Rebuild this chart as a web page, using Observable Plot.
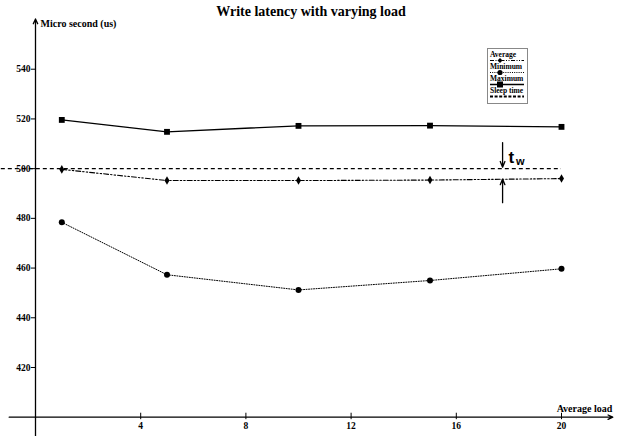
<!DOCTYPE html>
<html>
<head>
<meta charset="utf-8">
<script src="https://cdn.jsdelivr.net/npm/d3@7"></script>
<script src="https://cdn.jsdelivr.net/npm/@observablehq/plot@0.6"></script>
<style>
  html, body { margin: 0; padding: 0; background: #fff; }
  #wrap { position: relative; width: 621px; height: 436px; }
  #legend { position: absolute; left: 487px; top: 48px; }
</style>
</head>
<body>
<div id="wrap"></div>
<script>
// ---- data ----
const loads = [1, 5, 10, 15, 20];
const maximum = [519.6, 514.8, 517.2, 517.3, 516.8];
const average = [499.7, 495.2, 495.2, 495.4, 496.0];
const minimum = [478.4, 457.3, 451.2, 455.0, 459.7];
const sleepTime = [500];
const xTicks = [4, 8, 12, 16, 20];
const yTicks = [420, 440, 460, 480, 500, 520, 540];
const seriesNames = ["Average", "Minimum", "Maximum", "Sleep time"];
const title = "Write latency with varying load";
const yLabel = "Micro second (us)";
const xLabel = "Average load";
// t_w annotation arrows (data units)
const twX = 17.76;
const twArrows = [
  {y1: 510.5, y2: 500.6},
  {y1: 486.3, y2: 495.8}
];

const rows = loads.map((x, i) => ({x, max: maximum[i], avg: average[i], min: minimum[i]}));

const serif = "Liberation Serif";
const sans = "Liberation Sans";

const chart = Plot.plot({
  width: 621,
  height: 436,
  marginLeft: 0, marginRight: 0, marginTop: 0, marginBottom: 0,
  x: {domain: [0, 20], range: [35, 561], axis: null},
  y: {domain: [400, 560], range: [416.7, 19], axis: null},
  style: {background: "#fff"},
  marks: [
    // axes
    Plot.arrow([{x1: -1.0, x2: 21.95, y: 400}], {x1: "x1", x2: "x2", y1: "y", y2: "y", stroke: "#000", strokeWidth: 1.3, headLength: 6, headAngle: 50}),
    Plot.arrow([{x: 0, y1: 392.2, y2: 560.2}], {x1: "x", x2: "x", y1: "y1", y2: "y2", stroke: "#000", strokeWidth: 1.3, headLength: 6, headAngle: 50}),
    Plot.ruleY(yTicks, {y: d => d, x1: -0.16, x2: 0, stroke: "#000", strokeWidth: 1}),
    Plot.text(yTicks, {x: 0, y: d => d, text: d => String(d), dx: -5, textAnchor: "end", fontWeight: "bold", fontFamily: serif, fontSize: 9.5, fill: "#000"}),
    Plot.ruleX(xTicks, {x: d => d, y1: 399, y2: 401.6, stroke: "#000", strokeWidth: 1}),
    Plot.text(xTicks, {x: d => d, y: 400, text: d => String(d), dy: 9, fontWeight: "bold", fontFamily: serif, fontSize: 9.5, fill: "#000"}),
    // labels
    Plot.text([title], {frameAnchor: "top", text: d => d, dy: 6, fontWeight: "bold", fontFamily: serif, fontSize: 14, fill: "#000"}),
    Plot.text([yLabel], {x: 0, y: 560, text: d => d, dx: 5, dy: 4, textAnchor: "start", fontWeight: "bold", fontFamily: serif, fontSize: 10, fill: "#000"}),
    Plot.text([xLabel], {x: 21.95, y: 400, text: d => d, dx: -0.5, dy: -8, textAnchor: "end", fontWeight: "bold", fontFamily: serif, fontSize: 10, fill: "#000"}),
    // sleep time
    Plot.ruleY(sleepTime, {y: d => d, x1: -1.3, x2: 20, stroke: "#000", strokeWidth: 1.3, strokeDasharray: "4,3"}),
    // maximum
    Plot.line(rows, {x: "x", y: "max", stroke: "#000", strokeWidth: 1.4}),
    Plot.dot(rows, {x: "x", y: "max", symbol: "square", r: 3.3, fill: "#000", stroke: "none"}),
    // average
    Plot.line(rows, {x: "x", y: "avg", stroke: "#000", strokeWidth: 1.1, strokeDasharray: "5,2,1.5,2,1.5,2"}),
    Plot.dot(rows, {x: "x", y: "avg", symbol: "diamond", r: 2.6, fill: "#000", stroke: "none"}),
    // minimum
    Plot.line(rows, {x: "x", y: "min", stroke: "#000", strokeWidth: 1, strokeDasharray: "1,1.5"}),
    Plot.dot(rows, {x: "x", y: "min", symbol: "circle", r: 3, fill: "#000", stroke: "none"}),
    // t_w annotation
    Plot.arrow(twArrows, {x1: twX, x2: twX, y1: "y1", y2: "y2", stroke: "#000", strokeWidth: 1.3, headLength: 7, headAngle: 45}),
    Plot.text(["t"], {x: twX, y: 505.2, text: d => d, dx: 6, dy: 2, textAnchor: "start", fontWeight: "bold", fontFamily: sans, fontSize: 17, fill: "#000"}),
    Plot.text(["w"], {x: twX, y: 505.2, text: d => d, dx: 13.5, dy: 6, textAnchor: "start", fontWeight: "bold", fontFamily: sans, fontSize: 11, fill: "#000"})
  ]
});

const wrap = document.getElementById("wrap");
wrap.appendChild(chart);

// legend overlay
const lg = d3.select(wrap).append("svg").attr("id", "legend")
  .attr("width", 41).attr("height", 56);
lg.append("rect").attr("x", 0.5).attr("y", 0.5).attr("width", 40).attr("height", 55)
  .attr("fill", "#fff").attr("stroke", "#888").attr("stroke-width", 1);
const styles = [
  {dash: "4,1.5,1,1.5,1,1.5", w: 1.2, sym: "diamond"},
  {dash: "1,1.2", w: 1.1, sym: "circle"},
  {dash: null, w: 1.5, sym: "square"},
  {dash: "3,1.6", w: 2, sym: null}
];
seriesNames.forEach((name, i) => {
  const ty = 9 + i * 12;
  lg.append("text").attr("x", 3).attr("y", ty).text(name)
    .attr("font-family", serif).attr("font-weight", "bold").attr("font-size", 7.5).attr("fill", "#000");
  const ly = ty + 3.5;
  const ln = lg.append("line").attr("x1", 3).attr("x2", 37).attr("y1", ly).attr("y2", ly)
    .attr("stroke", "#000").attr("stroke-width", styles[i].w);
  if (styles[i].dash) ln.attr("stroke-dasharray", styles[i].dash);
  if (styles[i].sym === "square") lg.append("rect").attr("x", 10).attr("y", ly - 3).attr("width", 6).attr("height", 6).attr("fill", "#000");
  if (styles[i].sym === "circle") lg.append("circle").attr("cx", 13).attr("cy", ly).attr("r", 2.6).attr("fill", "#000");
  if (styles[i].sym === "diamond") lg.append("path").attr("d", `M13,${ly-2.5}L15.5,${ly}L13,${ly+2.5}L10.5,${ly}Z`).attr("fill", "#000");
});
</script>
</body>
</html>
